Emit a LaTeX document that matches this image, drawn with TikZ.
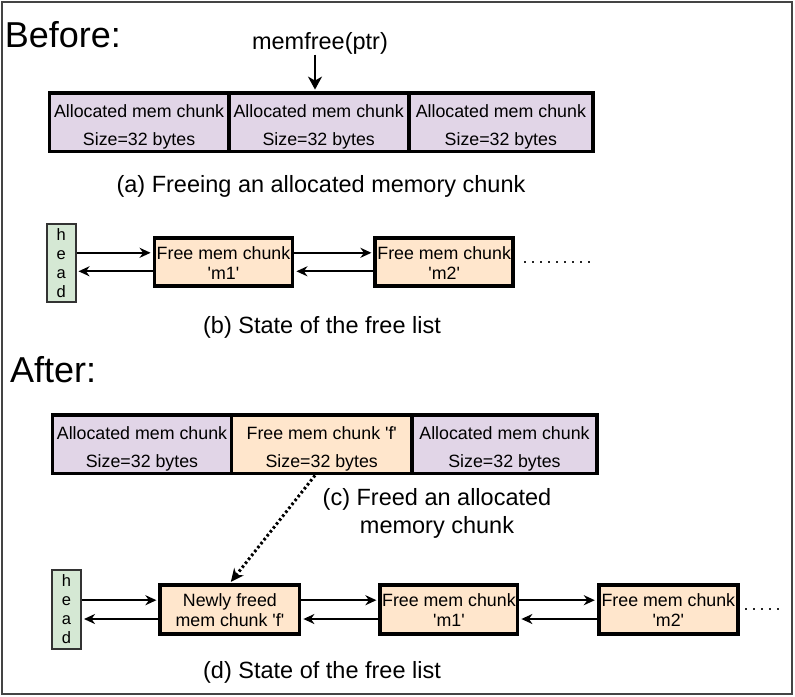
\documentclass[tikz,border=0pt]{standalone}
\usepackage{fontspec}
\setmainfont{Liberation Sans}
\usetikzlibrary{arrows.meta,calc}
\definecolor{allocfill}{HTML}{E1D5E7}
\definecolor{freefill}{HTML}{FFE6CC}
\definecolor{headfill}{HTML}{D5E8D4}
\definecolor{framegray}{HTML}{444444}
\newcommand\chunkfont{\fontsize{17.8}{27.5}\selectfont}
\newcommand\listfont{\fontsize{17.8}{20}\selectfont}
\newcommand\headfont{\fontsize{16.5}{19}\selectfont}
\newcommand\capfont{\fontsize{23.5}{27.3}\selectfont}
\newcommand\titlefont{\fontsize{36}{40}\selectfont}
\newcommand\sq{\textquotesingle}
% two text lines; the struts fix the top of the first and the bottom of the second
\newcommand\pairlines[4]{\rule{0pt}{#3pt}#1\\#2\rule[-#4pt]{0pt}{#4pt}}
\begin{document}
\begin{tikzpicture}[x=1pt,y=-1pt,
  memblock/.style={draw=black, line width=3.8pt, inner sep=0pt, align=center,
    font=\chunkfont, minimum height=58.5pt},
  alloc/.style={memblock, fill=allocfill},
  freed/.style={memblock, fill=freefill},
  listbox/.style={draw=black, line width=3.8pt, fill=freefill, inner sep=0pt,
    align=center, font=\listfont, minimum height=48pt},
  headbox/.style={draw=black!80, line width=2pt, fill=headfill, inner sep=0pt,
    align=center, font=\headfont, minimum width=28.5pt, minimum height=78.5pt},
  link/.style={line width=2pt, -{Stealth[length=11pt,width=10pt,inset=3.5pt]}, shorten >=2pt},
  call/.style={line width=2.5pt, -{Stealth[length=13pt,width=14pt,inset=4pt]}, shorten >=1.5pt},
  fall/.style={line width=3pt, dash pattern=on 2.5pt off 2.5pt,
    -{Stealth[length=13pt,width=12pt,inset=4pt]}, shorten >=1.5pt},
  trail/.style={line width=2pt, black!85, dash pattern=on 2pt off 6pt},
  caption/.style={font=\capfont, inner sep=0pt, anchor=base},
  title/.style={font=\titlefont, inner sep=0pt, anchor=base west}]

\useasboundingbox (0,0) rectangle (795,696);
\draw[framegray, line width=2pt] (2,1.5) rectangle (791.5,694);

% ---- before ----
\node[title] (before) at (4.7,47) {Before:};
\node[caption] (calltext) at (320,49.5) {memfree(ptr)};

\node[alloc, minimum width=179.2pt] (A1) at (139.1,122.25)
  {\pairlines{Allocated mem chunk}{Size=32 bytes}{22}{4}};
\node[alloc, minimum width=180pt] (A2) at (318.7,122.25)
  {\pairlines{Allocated mem chunk}{Size=32 bytes}{22}{4}};
\node[alloc, minimum width=184.3pt] (A3) at (500.85,122.25)
  {\pairlines{Allocated mem chunk}{Size=32 bytes}{22}{4}};
\draw[call] ([xshift=-5pt]calltext.south) -- ([xshift=-3.7pt]A2.north);

\node[caption] (capA) at (321,192) {(a) Freeing an allocated memory chunk};

\node[headbox] (headB) at (61.25,262.75) {h\\e\\a\\d};
\node[listbox, minimum width=138pt] (M1B) at (223.5,262)
  {\pairlines{Free mem chunk}{\sq m1\sq}{14.6}{0}};
\node[listbox, minimum width=137.7pt] (M2B) at (444.15,262)
  {\pairlines{Free mem chunk}{\sq m2\sq}{14.6}{0}};
\draw[link] ($(headB.east|-M1B.west)+(0,-9.2)$) -- ($(M1B.west)+(0,-9.2)$);
\draw[link] ($(M1B.west)+(0,9.3)$) -- ($(headB.east|-M1B.west)+(0,9.3)$);
\draw[link] ($(M1B.east)+(0,-9.2)$) -- ($(M2B.west)+(0,-9.2)$);
\draw[link] ($(M2B.west)+(0,9.3)$) -- ($(M1B.east)+(0,9.3)$);
\coordinate (trailB1) at (524,261.7);
\coordinate (trailB2) at (590,261.7);
\draw[trail] (trailB1) -- (trailB2);

\node[caption] (capB) at (322,333) {(b) State of the free list};

% ---- after ----
\node[title] (after) at (10,382.3) {After:};

\node[alloc, minimum width=179pt] (C1) at (142,444.25)
  {\pairlines{Allocated mem chunk}{Size=32 bytes}{22}{4}};
\node[freed, minimum width=180.5pt] (C2) at (321.75,444.25)
  {\pairlines{Free mem chunk \sq f\sq}{Size=32 bytes}{22}{4}};
\node[alloc, minimum width=185pt] (C3) at (504.5,444.25)
  {\pairlines{Allocated mem chunk}{Size=32 bytes}{22}{4}};

\node[caption, anchor=center, align=center] (capC) at (437,513.5)
  {(c) Freed an allocated\\memory chunk};

\node[headbox, minimum width=29pt, minimum height=79pt] (headD) at (66.5,609) {h\\e\\a\\d};
\node[listbox, minimum width=139.2pt, minimum height=49pt] (F) at (229.9,609.5)
  {\pairlines{Newly freed}{mem chunk \sq f\sq}{14.6}{0}};
\node[listbox, minimum width=137.2pt, minimum height=49pt] (M1D) at (448.9,609.5)
  {\pairlines{Free mem chunk}{\sq m1\sq}{14.6}{0}};
\node[listbox, minimum width=139.3pt, minimum height=49pt] (M2D) at (668.35,609.5)
  {\pairlines{Free mem chunk}{\sq m2\sq}{14.6}{0}};

\draw[fall] ([xshift=-6.75pt]C2.south) -- (F.north);

\draw[link] ($(headD.east|-F.west)+(0,-9.3)$) -- ($(F.west)+(0,-9.3)$);
\draw[link] ($(F.west)+(0,9.5)$) -- ($(headD.east|-F.west)+(0,9.5)$);
\draw[link] ($(F.east)+(0,-9.3)$) -- ($(M1D.west)+(0,-9.3)$);
\draw[link] ($(M1D.west)+(0,9.5)$) -- ($(F.east)+(0,9.5)$);
\draw[link] ($(M1D.east)+(0,-9.3)$) -- ($(M2D.west)+(0,-9.3)$);
\draw[link] ($(M2D.west)+(0,9.5)$) -- ($(M1D.east)+(0,9.5)$);
\coordinate (trailD1) at (745,609.3);
\coordinate (trailD2) at (779,609.3);
\draw[trail] (trailD1) -- (trailD2);

\node[caption] (capD) at (322,678) {(d) State of the free list};
\end{tikzpicture}
\end{document}
